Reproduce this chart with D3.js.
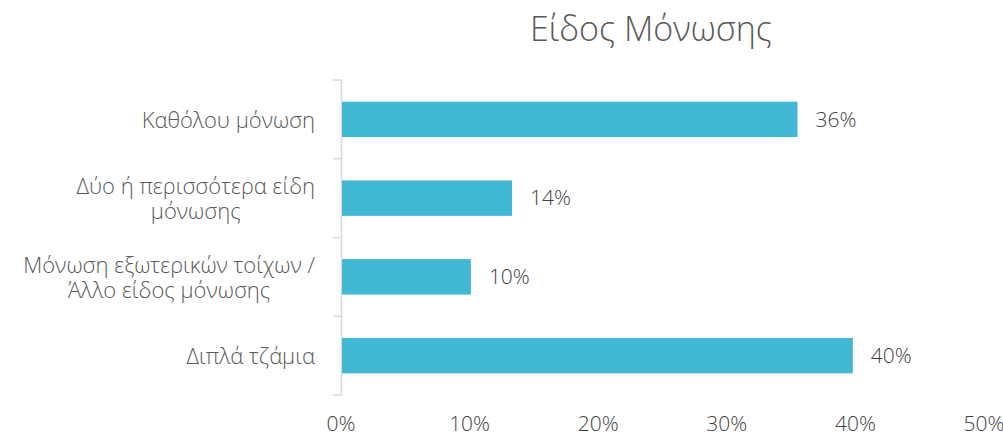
<!DOCTYPE html>
<html>
<head>
<meta charset="utf-8">
<script src="https://cdn.jsdelivr.net/npm/d3@7"></script>
<style>
  body { margin: 0; background: #fff; }
  text { font-family: "Open Sans", sans-serif; fill: #595959; font-weight: 300; }
  .num { fill: #404040; }
</style>
</head>
<body>
<div id="chart"></div>
<script>
// data
const categories = [
  ['Καθόλου μόνωση'],
  ['Δύο ή περισσότερα είδη', 'μόνωσης'],
  ['Μόνωση εξωτερικών τοίχων /', 'Άλλο είδος μόνωσης'],
  ['Διπλά τζάμια']
];
const values = [35.5, 13.3, 10.1, 39.8];
const valueLabels = ['36%', '14%', '10%', '40%'];
const xTicks = [0, 10, 20, 30, 40, 50];
const title = 'Είδος Μόνωσης';

const W = 1003, H = 436;
const margin = { top: 80, right: 19, bottom: 41, left: 341 };
const width = W - margin.left - margin.right;
const height = H - margin.top - margin.bottom;

const svg = d3.select('#chart').append('svg')
  .attr('width', W)
  .attr('height', H);

svg.append('text')
  .attr('x', 651)
  .attr('y', 41)
  .attr('text-anchor', 'middle')
  .style('font-size', '34px')
  .text(title);

const x = d3.scaleLinear().domain([0, 50]).range([0, 643]);
const y = d3.scaleBand()
  .domain(d3.range(categories.length))
  .range([0, height])
  .paddingInner(0.55)
  .paddingOuter(0.275);

const g = svg.append('g')
  .attr('transform', `translate(${margin.left},${margin.top})`);

// axis line + category boundary ticks
const step = height / categories.length;
g.append('line')
  .attr('x1', 0.5).attr('x2', 0.5)
  .attr('y1', 0).attr('y2', height)
  .attr('stroke', '#d9d9d9').attr('stroke-width', 1.5);
g.selectAll('.tick-y')
  .data(d3.range(categories.length + 1))
  .enter().append('line')
  .attr('x1', -8).attr('x2', 0.5)
  .attr('y1', d => d * step).attr('y2', d => d * step)
  .attr('stroke', '#d9d9d9').attr('stroke-width', 1.5);

// bars
g.selectAll('.bar')
  .data(values)
  .enter().append('rect')
  .attr('class', 'bar')
  .attr('x', 1)
  .attr('y', (d, i) => y(i))
  .attr('width', d => x(d) - 1)
  .attr('height', y.bandwidth())
  .style('fill', '#41b9d4');

// value labels
g.selectAll('.val')
  .data(values)
  .enter().append('text')
  .attr('class', 'num')
  .attr('x', d => x(d) + 18)
  .attr('y', (d, i) => y(i) + y.bandwidth() / 2)
  .attr('dy', '0.35em')
  .style('font-size', '21px')
  .text((d, i) => valueLabels[i]);

// category labels: right edge at -26, wrapped lines centred on each other
const lineH = 25;
const cat = g.selectAll('.cat')
  .data(categories)
  .enter().append('text')
  .attr('class', 'cat')
  .style('font-size', '22px')
  .attr('y', (d, i) => y(i) + y.bandwidth() / 2);
cat.selectAll('tspan')
  .data(d => d.map((t, j) => ({ t, j, n: d.length })))
  .enter().append('tspan')
  .attr('dy', d => d.j === 0 ? (0.35 * 22 - (d.n - 1) * lineH / 2 + 1) : lineH)
  .text(d => d.t);
cat.each(function(d) {
  const spans = d3.select(this).selectAll('tspan');
  if (d.length === 1) {
    d3.select(this).attr('text-anchor', 'end');
    spans.attr('x', -26);
  } else {
    let maxW = 0;
    spans.each(function() { maxW = Math.max(maxW, this.getComputedTextLength()); });
    d3.select(this).attr('text-anchor', 'middle');
    spans.attr('x', -26 - maxW / 2);
  }
});

// x tick labels
g.selectAll('.xt')
  .data(xTicks)
  .enter().append('text')
  .attr('class', 'num')
  .attr('x', d => x(d))
  .attr('y', height + 29)
  .attr('dy', '0.35em')
  .attr('text-anchor', 'middle')
  .style('font-size', '21px')
  .text(d => d + '%');
</script>
</body>
</html>
